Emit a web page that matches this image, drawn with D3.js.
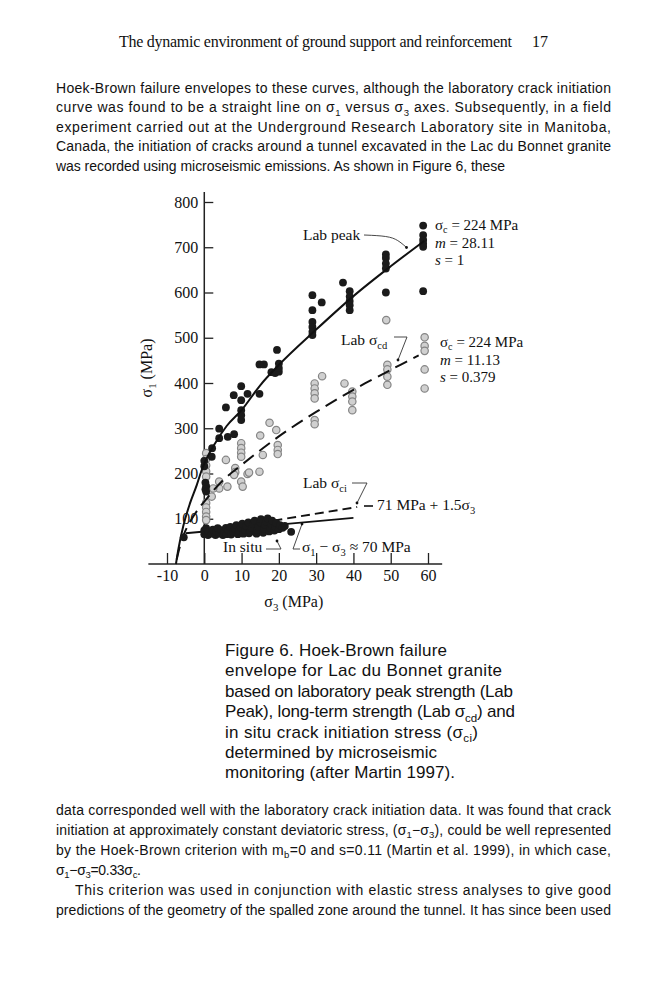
<!DOCTYPE html>
<html>
<head>
<meta charset="utf-8">
<script src="https://cdn.jsdelivr.net/npm/d3@7"></script>
<style>
html, body { margin: 0; padding: 0; background: #fff; }
svg { display: block; }
</style>
</head>
<body>
<div id="page"></div>
<script>
// ---- chart data (sigma3, sigma1 in MPa) ----
const xTicks = [-10, 0, 10, 20, 30, 40, 50, 60];
const yTicks = [100, 200, 300, 400, 500, 600, 700, 800];

const labPeak = [
  [0,228],[0,216],[0.3,180],[0.5,172],[0.3,165],[0.5,160],
  [2,237],[2.1,256],[4,278],[4,299],[6.3,281],[8,287],[5.8,346],
  [9.9,318],[9.9,329],[9.9,340],[9.9,362],[9.9,393],[7.9,373],[11.6,376],[14.8,376],
  [14.8,441],[16,441],[19.5,473],[18,424],[19,422],[20,425],[20,433],[20,443],
  [29,594],[31.5,578],[29,561],[29,535],[29,524],[29,513],[29,506],
  [37.2,622],[39,603],[39,591],[39,581],[39,572],[39,561],
  [48.7,684],[48.7,676],[48.7,664],[48.7,653],[48.7,600],
  [58.7,748],[58.7,727],[58.7,716],[58.7,708],[58.7,701],[58.7,603]
];

const labCd = [
  [59.1,501],[59.1,482],[59.1,471],[59.1,430],[59.1,388],
  [48.8,539],[49.1,440],[49.1,430],[49.1,414],[49.1,396],
  [37.6,399],[39.7,381],[39.7,370],[39.7,359],[39.7,340],
  [31.6,415],[29.6,399],[29.6,388],[29.6,377],[29.6,366],[29.6,318],[29.6,309],
  [19.3,296],[19.7,263],[19.7,252],[19.7,243],[17.5,312],[15,284],[15.7,241],[14.8,204],
  [9.9,267],[9.9,256],[9.9,246],[9.9,237],[11.6,199],[9.9,182],[10.3,171],
  [5.8,230],[8.3,212],[8.3,203],[8,197],[12,202],[4,182],[6.2,171],[4,167],[2.4,167],[2,149],
  [0.5,245],[0.5,232],[0.5,218],[0.5,205],[0.5,193],[0.5,135],[0.5,125],[0.5,115],[0.5,105],[0.5,97]
];

const inSitu = [
  [-5.5,59],
  [0,66],[0,74],[0.5,79],[1,64],[1.2,71],[2,67],[2.3,76],[3,64],[3.2,72],[3.6,79],
  [4,67],[4.5,75],[5,64],[5.3,70],[5.8,80],[6,66],[6.5,74],[7,82],[7.2,65],[7.8,71],
  [8.2,78],[8.6,86],[9,66],[9.3,73],[9.8,81],[10.2,89],[10.5,67],[11,75],[11.2,84],
  [11.8,92],[12,68],[12.4,72],[12.8,80],[13.1,88],[13.5,96],[14,67],[14.2,75],[14.6,83],
  [15,92],[15.2,99],[15.8,69],[16,78],[16.3,86],[16.6,94],[17,101],[17.4,72],[17.6,80],
  [18,88],[18.2,96],[18.8,74],[19,83],[19.3,91],[20,77],[20.3,86],[21,80],[21.6,84],[23.3,71]
];

const peakCurve = [
  [-7.6,0],[-6.9,35],[-5.6,85],[-3.8,135],[-2,175],[-0.8,205],[0,222],[3,268],[6,305],
  [10,340],[15,395],[20,440],[30,518],[40,592],[50,658],[59,714]
];
const cdCurve = [
  [-7.4,10],[-6.5,40],[-5.5,65],[-4,91],[-2,117],[0,138],[5,185],[10,219],
  [20,282],[30,336],[40,385],[50,429],[57.5,461]
];
const ciLine = [[0,71],[41,126]];
const inSituLine = [[-5,68],[40,102]];

// ---- page text ----
const headerText = "The dynamic environment of ground support and reinforcement";
const pageNo = "17";
const para1 = [
  "Hoek-Brown failure envelopes to these curves, although the laboratory crack initiation",
  "curve was found to be a straight line on σ_{1} versus σ_{3} axes. Subsequently, in a field",
  "experiment carried out at the Underground Research Laboratory site in Manitoba,",
  "Canada, the initiation of cracks around a tunnel excavated in the Lac du Bonnet granite",
  "was recorded using microseismic emissions. As shown in Figure 6, these"
];
const caption = [
  "Figure 6. Hoek-Brown failure",
  "envelope for Lac du Bonnet granite",
  "based on laboratory peak strength (Lab",
  "Peak), long-term strength (Lab σ_{cd}) and",
  "in situ crack initiation stress (σ_{ci})",
  "determined by microseismic",
  "monitoring (after Martin 1997)."
];
const para2 = [
  "data corresponded well with the laboratory crack initiation data. It was found that crack",
  "initiation at approximately constant deviatoric stress, (σ_{1}−σ_{3}), could be well represented",
  "by the Hoek-Brown criterion with m_{b}=0 and s=0.11 (Martin et al. 1999), in which case,",
  "σ_{1}−σ_{3}=0.33σ_{c}.",
  "This criterion was used in conjunction with elastic stress analyses to give good",
  "predictions of the geometry of the spalled zone around the tunnel. It has since been used"
];

const serif = "'Liberation Serif', 'Times New Roman', serif";
const sans = "'Liberation Sans', Arial, sans-serif";

const svg = d3.select("#page").append("svg")
    .attr("width", 666)
    .attr("height", 1000);
svg.append("rect").attr("width", 666).attr("height", 1000).attr("fill", "#fff");

// write a string with _{sub} and *italic* markup into a text element
function rich(t, str, size, shift = 0.28) {
  const parts = str.split(/(_\{[^}]*\}|\*[^*]*\*)/);
  let shifted = false;
  parts.forEach(p => {
    if (!p) return;
    let m;
    if ((m = p.match(/^_\{(.*)\}$/))) {
      t.append("tspan").attr("dy", size * shift).attr("font-size", size * 0.68).text(m[1]);
      shifted = true;
    } else if ((m = p.match(/^\*(.*)\*$/))) {
      t.append("tspan").attr("dy", shifted ? -size * shift : 0).attr("font-style", "italic").text(m[1]);
      shifted = false;
    } else {
      t.append("tspan").attr("dy", shifted ? -size * shift : 0).text(p);
      shifted = false;
    }
  });
  return t;
}

function line(str, x, yb, size, family, width) {
  const t = svg.append("text")
      .attr("x", x).attr("y", yb)
      .attr("font-family", family)
      .attr("font-size", size)
      .attr("fill", "#111");
  if (width) t.attr("textLength", width).attr("lengthAdjust", "spacing");
  return rich(t, str, size);
}

// header
line(headerText, 119, 47, 16, serif, 393);
line(pageNo, 532, 47, 16, serif);

// first paragraph
const p1w = [555, 555, 555, 555, 449];
para1.forEach((s, i) => line(s, 56, 92.5 + i * 19.6, 14, sans, p1w[i]));

// caption
const capw = [222, 277, 288, 290, 253, 212, 230];
caption.forEach((s, i) => line(s, 225, 656 + i * 20.4, 17, sans, capw[i]));

// last paragraph
const p2x = [56, 56, 56, 56, 75, 56];
const p2w = [555, 555, 555, 85, 536, 555];
para2.forEach((s, i) => line(s, p2x[i], 814.5 + i * 20, 14, sans, p2w[i]));

// ---- chart ----
const x = d3.scaleLinear().domain([-10, 60]).range([167, 428]);
const y = d3.scaleLinear().domain([0, 800]).range([564, 202]);
const chart = svg.append("g");

chart.append("g")
    .attr("transform", `translate(${x(0)},0)`)
    .call(d3.axisLeft(y).tickValues(yTicks).tickSize(-9).tickPadding(6).tickFormat(d => String(d)))
    .attr("font-family", serif)
    .attr("font-size", 16)
    .call(g => g.select(".domain").remove())
    .call(g => g.selectAll("line").attr("stroke", "#222").attr("stroke-width", 1.3))
    .call(g => g.selectAll("text").attr("fill", "#111"));

chart.append("g")
    .attr("transform", `translate(0,${y(0)})`)
    .call(d3.axisBottom(x).tickValues(xTicks).tickSize(-11).tickPadding(6).tickFormat(d => String(d)))
    .attr("font-family", serif)
    .attr("font-size", 16)
    .call(g => g.select(".domain").remove())
    .call(g => g.selectAll("line").attr("stroke", "#222").attr("stroke-width", 1.3))
    .call(g => g.selectAll("text").attr("fill", "#111"));

// axis lines
chart.append("line")
    .attr("x1", x(0)).attr("x2", x(0))
    .attr("y1", y(0)).attr("y2", y(800) - 10)
    .attr("stroke", "#222").attr("stroke-width", 1.5);
chart.append("line")
    .attr("x1", x(-15)).attr("x2", x(63.8))
    .attr("y1", y(0)).attr("y2", y(0))
    .attr("stroke", "#222").attr("stroke-width", 1.5);

// axis titles
rich(chart.append("text")
    .attr("x", x(24)).attr("y", 607)
    .attr("text-anchor", "middle")
    .attr("font-family", serif).attr("font-size", 16).attr("fill", "#111"), "σ_{3} (MPa)", 16);
rich(chart.append("text")
    .attr("transform", "translate(152,368) rotate(-90)")
    .attr("text-anchor", "middle")
    .attr("font-family", serif).attr("font-size", 16).attr("fill", "#111"), "σ_{1} (MPa)", 16);

// points
chart.append("g").selectAll("circle")
    .data(labCd).join("circle")
    .attr("cx", d => x(d[0])).attr("cy", d => y(d[1]))
    .attr("r", 3.7)
    .attr("fill", "#d0d0d0").attr("stroke", "#858585").attr("stroke-width", 1.2);

chart.append("g").selectAll("circle")
    .data(labPeak).join("circle")
    .attr("cx", d => x(d[0])).attr("cy", d => y(d[1]))
    .attr("r", 3.9)
    .attr("fill", "#1b1b1b");

// curves
const path = d3.line().x(d => x(d[0])).y(d => y(d[1])).curve(d3.curveMonotoneX);
chart.append("path").datum(peakCurve).attr("d", path)
    .attr("fill", "none").attr("stroke", "#111").attr("stroke-width", 2);
chart.append("path").datum(cdCurve).attr("d", d3.line().x(d => x(d[0])).y(d => y(d[1])).curve(d3.curveCatmullRom))
    .attr("fill", "none").attr("stroke", "#111").attr("stroke-width", 2)
    .attr("stroke-dasharray", "13,7");
chart.append("path").datum(ciLine).attr("d", path)
    .attr("fill", "none").attr("stroke", "#111").attr("stroke-width", 2)
    .attr("stroke-dasharray", "9,5");
chart.append("path").datum(inSituLine).attr("d", path)
    .attr("fill", "none").attr("stroke", "#111").attr("stroke-width", 1.8);

chart.append("g").selectAll("circle")
    .data(inSitu).join("circle")
    .attr("cx", d => x(d[0])).attr("cy", d => y(d[1]))
    .attr("r", 3.9)
    .attr("fill", "#1b1b1b");

// labels and leaders
function label(str, lx, ly, size, shift) {
  return rich(chart.append("text")
      .attr("x", lx).attr("y", ly)
      .attr("font-family", serif).attr("font-size", size).attr("fill", "#111"), str, size, shift);
}
function leader(pts, curved) {
  const g = d3.line().curve(curved ? d3.curveBasis : d3.curveLinear);
  chart.append("path").attr("d", g(pts))
      .attr("fill", "none").attr("stroke", "#333").attr("stroke-width", 0.9);
  const e = pts[pts.length - 1];
  chart.append("circle").attr("cx", e[0]).attr("cy", e[1]).attr("r", 1.4).attr("fill", "#111");
}

label("Lab peak", 303, 240, 15.5);
leader([[364, 235], [388, 236], [398, 240], [406.5, 247.5]], true);

label("Lab σ_{cd}", 341, 345, 15.5);
leader([[394, 337], [407, 337], [398, 360]], false);

label("Lab σ_{ci}", 303, 488, 15.5);
leader([[352, 483], [367, 483], [357, 503]], false);

chart.append("line").attr("x1", 364).attr("x2", 373).attr("y1", 506).attr("y2", 506)
    .attr("stroke", "#111").attr("stroke-width", 1.6);
label("71 MPa + 1.5σ_{3}", 377, 510, 15.5);

label("In situ", 223, 552, 15.5);
leader([[266, 549], [281, 549], [277, 541]], false);

label("σ_{1} − σ_{3} ≈ 70 MPa", 302, 552, 15.5);
leader([[300, 549], [293, 549], [302, 524]], false);

// Hoek-Brown parameters
label("σ_{c} = 224 MPa", 435, 229.5, 15, 0.2);
label("*m* = 28.11", 435, 247.5, 15);
label("*s* = 1", 435, 265, 15);

label("σ_{c} = 224 MPa", 440, 346.5, 15, 0.2);
label("*m* = 11.13", 440, 364.5, 15);
label("*s* = 0.379", 440, 382, 15);
</script>
</body>
</html>
